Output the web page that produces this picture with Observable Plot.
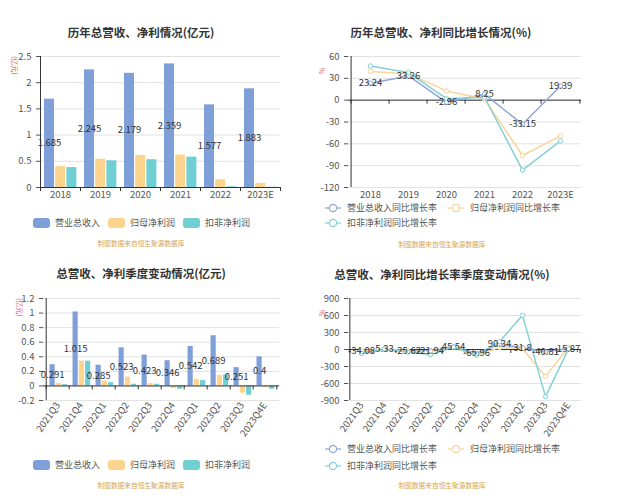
<!DOCTYPE html>
<html><head><meta charset="utf-8">
<script src="https://cdn.jsdelivr.net/npm/d3@7"></script>
<script src="https://cdn.jsdelivr.net/npm/@observablehq/plot@0.6"></script>
<style>
body{margin:0;background:#fff;}
#root{position:relative;width:632px;height:500px;overflow:hidden;background:#fff;font-family:"Noto Sans CJK SC","Noto Sans",sans-serif;}
.title{position:absolute;width:320px;text-align:center;font-size:11.5px;font-weight:bold;color:#333;line-height:14px;white-space:nowrap;}
.cap{position:absolute;width:200px;text-align:center;font-size:6.7px;color:#d5a650;line-height:8px;white-space:nowrap;}
.leg{position:absolute;display:flex;align-items:center;font-size:9px;color:#555;line-height:10px;height:10px;white-space:nowrap;}
.yname{position:absolute;font-size:7px;color:#e06060;white-space:nowrap;transform-origin:0 0;}
</style>
</head><body><div id="root"></div>
<script>
// ---------- data ----------
const years = ["2018","2019","2020","2021","2022","2023E"];
const revenue = [1.685, 2.245, 2.179, 2.359, 1.577, 1.883];
const netProfit = [0.40, 0.54, 0.61, 0.62, 0.146, 0.076];
const deductProfit = [0.38, 0.51, 0.53, 0.58, 0.013, 0.005];
const revenueGrowth = [23.24, 33.26, -2.96, 8.25, -33.15, 19.39];
const netGrowth = [39.5, 36, 12.7, 1.5, -76, -49];
const deductGrowth = [47, 38, 2, 4, -96, -56];

const quarters = ["2021Q3","2021Q4","2022Q1","2022Q2","2022Q3","2022Q4","2023Q1","2023Q2","2023Q3","2023Q4E"];
const qRevenue = [0.291, 1.015, 0.285, 0.523, 0.423, 0.346, 0.542, 0.689, 0.251, 0.4];
const qNetProfit = [0.032, 0.34, 0.068, 0.123, 0.032, -0.036, 0.09, 0.145, -0.10, -0.023];
const qDeductProfit = [0.018, 0.34, 0.045, 0.023, 0.023, -0.045, 0.073, 0.15, -0.127, -0.045];
const qRevenueGrowth = [-34.08, 5.33, -25.62, -21.94, 45.54, -65.96, 90.34, 31.8, -40.81, 15.87];
const qNetGrowth = [-20, 10, -25, -45, 30, -105, 35, 18, -474, 36];
const qDeductGrowth = [-70, 10, -45, -90, 40, -95, 140, 603, -832, 10];

const yTicksAnnual = [0, 0.5, 1, 1.5, 2, 2.5];
const yTicksAnnualGrowth = [-120, -90, -60, -30, 0, 30, 60];
const yTicksQuarter = [-0.2, 0, 0.2, 0.4, 0.6, 0.8, 1, 1.2];
const yTicksQuarterGrowth = [-900, -600, -300, 0, 300, 600, 900];

const barNames = ["营业总收入", "归母净利润", "扣非净利润"];
const lineNames = ["营业总收入同比增长率", "归母净利润同比增长率", "扣非净利润同比增长率"];
const titles = ["历年总营收、净利情况(亿元)", "历年总营收、净利同比增长情况(%)", "总营收、净利季度变动情况(亿元)", "总营收、净利同比增长率季度变动情况(%)"];
const caption = "制图数据来自恒生聚源数据库";

// ---------- style ----------
const BAR = ["#7f9fd9", "#fdd48e", "#6fcfd3"];
const LINE = ["#8ea6d9", "#f8d59a", "#84d0d6"];
const FONT = '"Noto Sans CJK SC","Noto Sans",sans-serif';
const root = document.getElementById("root");

function place(el, left, top) { el.style.position = "absolute"; el.style.left = left + "px"; el.style.top = top + "px"; root.appendChild(el); }
function div(cls, text, left, top) { const d = document.createElement("div"); d.className = cls; d.textContent = text; place(d, left, top); return d; }

function barPanel(o) {
  const {cats, rev, net, ded, yTicks, left, top, width, height, mt, mb, ml, mr, start, bwf, gap, rotate} = o;
  const n = cats.length, bw = (width - ml - mr) / n;
  const rows = cats.map((c, i) => ({cat: c, v0: rev[i], v1: net[i], v2: ded[i]}));
  const y0 = yTicks[0], y1 = yTicks[yTicks.length - 1];
  const tick = 4 * (y1 - y0) / (height - mt - mb);
  const keys = ["v0", "v1", "v2"];
  const bars = keys.map((k, j) => {
    const s = start + j * (bwf + gap);
    return Plot.barY(rows, {x: "cat", y: k, fill: BAR[j], insetLeft: bw * s, insetRight: bw * (1 - s - bwf)});
  });
  const svg = Plot.plot({
    width, height, marginTop: mt, marginBottom: mb, marginLeft: ml, marginRight: mr,
    style: {fontFamily: FONT, fontSize: "9.5px", color: "#555", background: "transparent", overflow: "visible"},
    x: {type: "band", domain: cats, padding: 0, tickSize: 0, tickPadding: rotate ? 3 : 4, tickRotate: rotate || 0, label: null},
    y: {domain: [y0, y1], ticks: yTicks, tickFormat: d => String(d), tickSize: 4, label: null},
    marks: [
      Plot.gridY(yTicks, {stroke: "#e2e2e2", strokeOpacity: 1}),
      ...bars,
      Plot.ruleY([0], {stroke: "#333"}),
      Plot.ruleX(cats, {x: d => d, y1: 0, y2: -tick, dx: -bw / 2, stroke: "#333"}),
      Plot.ruleX([cats[n - 1]], {x: d => d, y1: 0, y2: -tick, dx: bw / 2, stroke: "#333"}),
      Plot.ruleX([cats[0]], {x: d => d, y1: y0, y2: y1, dx: -bw / 2, stroke: "#333"}),
      Plot.text(rows, {x: "cat", y: d => d.v0 / 2, text: d => String(d.v0), dx: bw * (start + bwf / 2 - 0.5), fill: "#333", fontSize: 9.5})
    ]
  });
  place(svg, left, top);
}

function linePanel(o) {
  const {cats, rev, net, ded, yTicks, left, top, width, height, mt, mb, ml, mr, rotate} = o;
  const n = cats.length, step = (width - ml - mr) / n;
  const rows = cats.map((c, i) => ({cat: c, v0: rev[i], v1: net[i], v2: ded[i]}));
  const y0 = yTicks[0], y1 = yTicks[yTicks.length - 1];
  const tick = 4 * (y1 - y0) / (height - mt - mb);
  const keys = ["v0", "v1", "v2"];
  const lines = keys.flatMap((k, j) => [
    Plot.line(rows, {x: "cat", y: k, stroke: LINE[j], strokeWidth: 1.5}),
    Plot.dot(rows, {x: "cat", y: k, r: 2.2, stroke: LINE[j], fill: "#fff", strokeWidth: 1})
  ]);
  const svg = Plot.plot({
    width, height, marginTop: mt, marginBottom: mb, marginLeft: ml, marginRight: mr,
    style: {fontFamily: FONT, fontSize: "9.5px", color: "#555", background: "transparent", overflow: "visible"},
    x: {type: "point", domain: cats, padding: 0.5, tickSize: 0, tickPadding: rotate ? 3 : 4, tickRotate: rotate || 0, label: null},
    y: {domain: [y0, y1], ticks: yTicks, tickFormat: d => String(d), tickSize: 4, label: null},
    marks: [
      Plot.gridY(yTicks, {stroke: "#e2e2e2", strokeOpacity: 1}),
      Plot.ruleY([0], {stroke: "#333"}),
      Plot.ruleX(cats, {x: d => d, y1: 0, y2: -tick, dx: -step / 2, stroke: "#333"}),
      Plot.ruleX([cats[n - 1]], {x: d => d, y1: 0, y2: -tick, dx: step / 2, stroke: "#333"}),
      Plot.ruleX([cats[0]], {x: d => d, y1: y0, y2: y1, dx: -step / 2, stroke: "#333"}),
      ...lines,
      Plot.text(rows, {x: "cat", y: "v0", text: d => String(d.v0), fill: "#333", fontSize: 9.5})
    ]
  });
  place(svg, left, top);
}

function barLegend(left, top) {
  const d = document.createElement("div"); d.className = "leg";
  d.innerHTML = barNames.map((nm, j) =>
    `<span style="display:inline-block;width:17px;height:10px;border-radius:3px;background:${BAR[j]};margin-right:5px"></span><span style="margin-right:8px">${nm}</span>`).join("");
  place(d, left, top);
}
function lineLegendItem(j, left, top) {
  const d = document.createElement("div"); d.className = "leg";
  d.innerHTML = `<svg width="16" height="10" style="margin-right:6px"><line x1="0" x2="16" y1="5" y2="5" stroke="${LINE[j]}" stroke-width="1.2"/><circle cx="8" cy="5" r="3.6" fill="#fff" stroke="${LINE[j]}" stroke-width="1.2"/></svg><span>${lineNames[j]}</span>`;
  place(d, left, top);
}

// ---------- panels ----------
div("title", titles[0], 141 - 160, 25);
div("title", titles[1], 441 - 160, 25);
div("title", titles[2], 141 - 160, 266);
div("title", titles[3], 442 - 160, 267);

barPanel({cats: years, rev: revenue, net: netProfit, ded: deductProfit, yTicks: yTicksAnnual,
  left: 0, top: 40, width: 316, height: 175, mt: 16, mb: 28, ml: 40, mr: 36, start: 0.10, bwf: 0.25, gap: 0.03});
linePanel({cats: years, rev: revenueGrowth, net: netGrowth, ded: deductGrowth, yTicks: yTicksAnnualGrowth,
  left: 316, top: 40, width: 316, height: 175, mt: 16, mb: 28, ml: 32, mr: 51});
barPanel({cats: quarters, rev: qRevenue, net: qNetProfit, ded: qDeductProfit, yTicks: yTicksQuarter,
  left: 0, top: 282, width: 316, height: 170, mt: 16, mb: 52, ml: 43, mr: 37, start: 0.15, bwf: 0.245, gap: 0.02, rotate: -55});
linePanel({cats: quarters, rev: qRevenueGrowth, net: qNetGrowth, ded: qDeductGrowth, yTicks: yTicksQuarterGrowth,
  left: 316, top: 282, width: 316, height: 170, mt: 16, mb: 52, ml: 32, mr: 51, rotate: -55});

// axis names
const yn1 = div("yname", "(亿元)", 20, 56); yn1.style.transform = "rotate(90deg)";
const yn2 = div("yname", "%", 327, 68); yn2.style.transform = "rotate(90deg)";
const yn3 = div("yname", "(亿元)", 25, 298); yn3.style.transform = "rotate(90deg)";
const yn4 = div("yname", "%", 327, 310); yn4.style.transform = "rotate(90deg)";

// legends
barLegend(33, 218);
lineLegendItem(0, 325, 203);
lineLegendItem(1, 448, 203);
lineLegendItem(2, 325, 218);
barLegend(33, 460);
lineLegendItem(0, 325, 444);
lineLegendItem(1, 448, 444);
lineLegendItem(2, 325, 461);

// captions
div("cap", caption, 141 - 100, 239);
div("cap", caption, 442 - 100, 240);
div("cap", caption, 141 - 100, 481);
div("cap", caption, 442 - 100, 481);
</script></body></html>
